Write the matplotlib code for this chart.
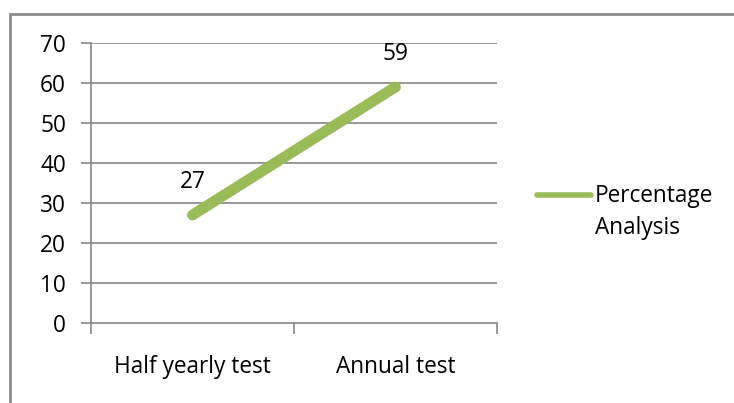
import matplotlib
matplotlib.use("Agg")
import matplotlib.pyplot as plt
from matplotlib.lines import Line2D
from matplotlib.patches import Rectangle

categories = ["Half yearly test", "Annual test"]
values = [27, 59]
series_name = "Percentage\nAnalysis"
yticks = [0, 10, 20, 30, 40, 50, 60, 70]

W, H = 734, 403
fig = plt.figure(figsize=(W / 100, H / 100), dpi=100)
plt.rcParams['font.family'] = ['Open Sans', 'DejaVu Sans']
FS = 16.3

# outer chart frame
fig.patches.append(Rectangle((10 / W, -0.05), 1.1, (H - 14) / H + 0.05, transform=fig.transFigure,
                             fill=False, edgecolor='#8c8c8c', linewidth=2.0))

ax = fig.add_axes([91 / W, 1 - 323 / H, (497 - 91) / W, (323 - 43) / H])
green = '#9BBB59'
grid = '#868686'
x = list(range(len(categories)))
ax.plot(x, values, color=green, linewidth=7.8, solid_capstyle='round')
ax.set_xlim(-0.5, len(categories) - 0.5)
ax.set_ylim(0, 70)
ax.set_yticks(yticks)
ax.set_yticklabels([str(t) for t in yticks], fontsize=FS)
for t in yticks[1:]:
    ax.axhline(t, color=grid, linewidth=1.2, zorder=0)
for s in ['top', 'right']:
    ax.spines[s].set_visible(False)
ax.spines['left'].set_color(grid)
ax.spines['bottom'].set_color(grid)
ax.spines['left'].set_linewidth(1.2)
ax.spines['bottom'].set_linewidth(1.2)
ax.tick_params(axis='y', length=7, color=grid, width=1.2, pad=11)
ax.set_xticks([-0.5, 0.5, 1.5], minor=False)
ax.set_xticklabels([])
ax.tick_params(axis='x', length=8, color=grid, width=1.2)
for xi, c in zip(x, categories):
    ax.text(xi, -11.0, c, ha='center', va='center', fontsize=FS)
for xi, v in zip(x, values):
    ax.annotate(str(v), (xi, v), xytext=(0, 24), textcoords='offset points',
                ha='center', va='center', fontsize=FS)

# legend
fig.add_artist(Line2D([537 / W, 591 / W], [1 - 195 / H, 1 - 195 / H], transform=fig.transFigure,
                      color=green, linewidth=4, solid_capstyle='round'))
fig.text(595 / W, 1 - 212 / H, series_name, ha='left', va='center', fontsize=FS, linespacing=1.45)

fig.savefig("out.png", dpi=100)
